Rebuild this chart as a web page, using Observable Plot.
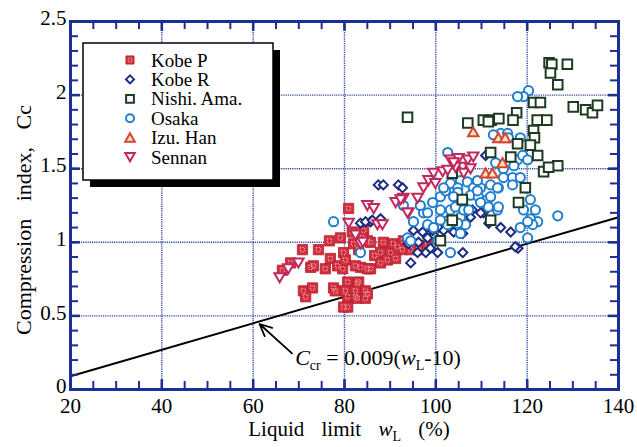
<!DOCTYPE html>
<html><head><meta charset="utf-8">
<script src="https://cdn.jsdelivr.net/npm/d3@7"></script>
<script src="https://cdn.jsdelivr.net/npm/@observablehq/plot@0.6"></script>
<style>
body{margin:0;background:#fff;}
#wrap{width:637px;height:447px;}
</style></head><body><div id="wrap"></div>
<script>
// ---- data (liquid limit wL %, compression index Cc) ----
const kobeP_x = [80.9,76.7,70.8,74.3,76.9,72.6,75.8,79.6,66.4,68.2,71.0,73.0,77.6,80.7,80.7,82.4,80.7,82.8,79.8,82.0,85.7,88.5,87.9,90.1,90.7,78.5,83.5,85.7,87.9,89.4,83.1,78.0,80.2,82.4,84.6,71.5,82.8,84.6,79.8,85.0,92.9,96.2,84.2,98.2,83.9,83.1,91.6,92.7,94.5,80.2,82.4,85.0,73.2,85.0,79.1,81.7,86.6,91.2];
const kobeP_y = [1.23,1.01,0.95,0.95,0.89,0.83,0.82,0.82,0.81,0.86,0.67,0.69,0.69,0.73,0.63,0.63,0.56,0.72,0.93,0.99,1.00,1.00,0.93,0.93,0.99,0.84,0.83,0.82,0.86,0.88,0.73,0.67,0.67,0.67,0.67,0.63,0.62,0.62,0.56,1.01,1.01,0.95,1.08,0.98,1.03,0.95,0.97,0.95,0.95,0.88,0.84,0.82,0.84,0.65,1.03,1.07,0.91,0.89];

const kobeR_x = [87.4,88.5,91.8,92.7,85.7,87.9,83.5,84.6,86.1,94.5,97.8,96.2,99.5,100.6,103.9,105.4,107.6,110.4,114.2,116.4,118.0,108.0,109.8,111.6,117.4,110.9,95.1,97.1,98.2,99.3,101.7,105.9,94.0,98.8,100.4,105.9,96.0];
const kobeR_y = [1.39,1.39,1.39,1.37,1.14,1.16,1.13,1.14,1.15,0.86,0.93,1.00,1.05,1.10,1.07,1.12,1.17,1.20,1.10,1.07,0.96,1.22,1.20,1.13,0.97,1.59,1.08,1.07,1.03,1.08,1.08,1.06,0.99,0.96,0.93,0.93,0.93];

const nishi_x = [93.8,124.8,125.4,128.8,125.1,126.7,121.4,122.9,130.1,132.8,134.3,135.4,110.4,112.1,113.8,117.7,116.9,122.2,124.3,121.4,107.0,121.6,120.7,112.0,116.4,122.3,123.6,126.7,119.6,118.1,103.6,101.0,103.6,112.0,105.8,124.7,111.5,117.9];
const nishi_y = [1.85,2.22,2.21,2.21,2.15,2.07,1.95,1.95,1.92,1.90,1.88,1.93,1.83,1.83,1.84,1.88,1.83,1.83,1.83,1.76,1.81,1.71,1.66,1.61,1.58,1.59,1.48,1.52,1.37,1.27,1.47,1.01,1.15,1.15,1.29,1.51,1.82,1.67];

const osaka_x = [77.6,83.5,103.2,120.1,126.7,122.3,120.7,93.8,95.1,97.3,99.3,101.7,103.2,102.6,113.5,111.3,120.3,119.2,117.9,102.6,114.2,115.7,118.5,117.9,119.0,120.1,112.6,113.1,114.8,105.4,106.9,108.2,109.8,112.0,113.7,114.8,116.8,116.8,107.6,109.3,111.3,111.5,119.2,121.2,92.9,101.0,102.1,103.2,104.8,104.3,105.4,106.5,101.0,98.2,99.5,94.5,101.7,101.0,98.2,104.8,106.1,105.4,115.9,117.1,118.5,109.1,113.5,104.8,109.1,105.4,109.8,113.7,112.0,118.5,120.1,100.4,96.6,103.9,107.2,120.7,121.8];
const osaka_y = [1.14,0.93,0.93,1.03,1.18,1.14,1.16,1.03,1.14,1.20,1.27,1.20,1.22,1.12,1.22,1.25,2.03,1.99,1.99,1.61,1.74,1.74,1.71,1.56,1.59,1.56,1.73,1.54,1.50,1.42,1.41,1.37,1.37,1.39,1.37,1.44,1.44,1.39,1.32,1.31,1.29,1.24,1.22,1.12,1.25,1.31,1.35,1.40,1.37,1.24,1.17,1.12,1.15,1.12,1.10,1.01,1.37,1.22,1.20,1.13,1.22,1.06,1.71,1.52,1.44,1.42,1.37,1.34,1.35,1.29,1.27,1.24,1.31,1.10,1.14,1.01,1.25,1.31,1.22,1.29,1.22];

const izu_x = [108.2,113.7,115.2,114.6,110.9,112.4];
const izu_y = [1.75,1.71,1.71,1.54,1.47,1.47];

const sennan_x = [65.8,67.7,69.9,80.9,82.4,83.5,87.2,85.0,86.4,88.3,91.2,92.9,94.0,96.0,97.3,98.4,99.5,99.9,101.5,103.2,105.0,105.9,104.3,107.0,108.2,103.9,102.6,106.1,92.3,93.8,107.6,84.0];
const sennan_y = [0.76,0.82,0.86,1.13,1.05,0.99,1.12,1.25,1.23,1.12,1.27,1.30,1.20,1.30,1.37,1.42,1.47,1.40,1.48,1.56,1.57,1.51,1.51,1.56,1.58,1.54,1.49,1.47,1.29,1.20,1.50,1.00];

const seriesNames = ["Kobe P","Kobe R","Nishi. Ama.","Osaka","Izu. Han","Sennan"];

// critical line Ccr = 0.009(wL - 10)
const lineX = [20, 140];
const lineY = [0.09, 1.17];

// annotation arrow (tail -> head) and label anchor
const arrowFrom = [68.5, 0.245];
const arrowTo = [61.4, 0.445];
const labelAt = [69.3, 0.163];

// ticks
const xMajor = [20,40,60,80,100,120,140];
const xMinor = d3.range(20,141,5);
const yMajor = [0,0.5,1,1.5,2,2.5];
const yMajorLabels = ["0","0.5","1","1.5","2","2.5"];
const yMinor = d3.range(0,26).map(i=>i/10);

const zip = (xs,ys)=>xs.map((x,i)=>({x, y: ys[i]}));
const kobeP = zip(kobeP_x,kobeP_y), kobeR = zip(kobeR_x,kobeR_y), nishi = zip(nishi_x,nishi_y),
      osaka = zip(osaka_x,osaka_y), izu = zip(izu_x,izu_y), sennan = zip(sennan_x,sennan_y);
const critLine = zip(lineX,lineY);

// custom triangles
const triDown = {draw(ctx,size){const r=Math.sqrt(size/Math.PI);const w=r*1.12,h=r*0.95;ctx.moveTo(-w,-h);ctx.lineTo(w,-h);ctx.lineTo(0,h*1.05);ctx.closePath();}};
const triUp = {draw(ctx,size){const r=Math.sqrt(size/Math.PI);const w=r*1.12,h=r*0.95;ctx.moveTo(-w,h);ctx.lineTo(w,h);ctx.lineTo(0,-h*1.05);ctx.closePath();}};

const W=637,H=447,mL=70,mR=19,mT=21,mB=58;
const pw=W-mL-mR, ph=H-mT-mB;
const axisBlue="#1b2f95", gridBlue="#3346a6";
const cKobeP="#d22f3e", cKobeR="#1d2a82", cNishi="#1c3b21", cOsaka="#1f7fcf", cIzu="#d5452a", cSennan="#c3285c";

const plot = Plot.plot({
  width:W, height:H, marginLeft:mL, marginRight:mR, marginTop:mT, marginBottom:mB,
  x:{domain:[20,140]}, y:{domain:[0,2.5]},
  style:{fontFamily:"Liberation Serif", fontSize:"21px", color:"black", background:"white", overflow:"visible"},
  marks:[
    Plot.gridX(xMajor.slice(1,-1),{stroke:gridBlue, strokeOpacity:1, strokeWidth:1.4, strokeDasharray:"1.2,1"}),
    Plot.gridY(yMajor.slice(1,-1),{stroke:gridBlue, strokeOpacity:1, strokeWidth:1.4, strokeDasharray:"1.2,1"}),
    Plot.line(critLine,{x:"x",y:"y",stroke:"black",strokeWidth:2}),
    Plot.arrow([{x1:arrowFrom[0],y1:arrowFrom[1],x2:arrowTo[0],y2:arrowTo[1]}],{x1:"x1",y1:"y1",x2:"x2",y2:"y2",stroke:"black",strokeWidth:1.8,headLength:11,headAngle:50}),
    Plot.dot(kobeP,{x:"x",y:"y",symbol:"square",r:5.8,fill:cKobeP,stroke:"#b51f2d",strokeWidth:0.8}),
    Plot.dot(kobeP,{x:"x",y:"y",symbol:"square",r:2.4,fill:"none",stroke:"#f6c2c6",strokeWidth:1,strokeDasharray:"1,1.3"}),
    Plot.dot(kobeR,{x:"x",y:"y",symbol:"diamond2",r:4.1,fill:"white",stroke:cKobeR,strokeWidth:2}),
    Plot.dot(osaka,{x:"x",y:"y",symbol:"circle",r:4.6,fill:"white",stroke:cOsaka,strokeWidth:2}),
    Plot.dot(nishi,{x:"x",y:"y",symbol:"square",r:5.4,fill:"white",stroke:cNishi,strokeWidth:2}),
    Plot.dot(sennan,{x:"x",y:"y",symbol:triDown,r:4.7,fill:"white",stroke:cSennan,strokeWidth:2}),
    Plot.dot(izu,{x:"x",y:"y",symbol:triUp,r:4.7,fill:"#fbe0c6",stroke:cIzu,strokeWidth:2}),
    // inward ticks on all four sides
    Plot.tickX(xMinor,{x:d=>d,stroke:axisBlue,strokeWidth:2,insetTop:ph-8}),
    Plot.tickX(xMinor,{x:d=>d,stroke:axisBlue,strokeWidth:2,insetBottom:ph-8}),
    Plot.tickY(yMinor,{y:d=>d,stroke:axisBlue,strokeWidth:2,insetRight:pw-8}),
    Plot.tickY(yMinor,{y:d=>d,stroke:axisBlue,strokeWidth:2,insetLeft:pw-8}),
    Plot.tickX(xMajor,{x:d=>d,stroke:axisBlue,strokeWidth:2.5,insetTop:ph-10}),
    Plot.tickX(xMajor,{x:d=>d,stroke:axisBlue,strokeWidth:2.5,insetBottom:ph-10}),
    Plot.tickY(yMajor,{y:d=>d,stroke:axisBlue,strokeWidth:2.5,insetRight:pw-10}),
    Plot.tickY(yMajor,{y:d=>d,stroke:axisBlue,strokeWidth:2.5,insetLeft:pw-10}),
    Plot.frame({stroke:axisBlue,strokeWidth:3}),
    Plot.axisX(xMajor,{tickSize:0,tickPadding:9,label:null,fill:"black"}),
    Plot.axisY(yMajor,{tickSize:0,tickPadding:4,label:null,fill:"black",dy:-3,tickFormat:(d)=>yMajorLabels[yMajor.indexOf(d)]})
  ]
});
document.getElementById("wrap").appendChild(plot);

const svg = d3.select(plot);
const sx = plot.scale("x"), sy = plot.scale("y");
const serif = "Liberation Serif";

// annotation label
const lab = svg.append("text").attr("x", sx.apply(labelAt[0])).attr("y", sy.apply(labelAt[1]))
  .attr("text-anchor","start").attr("font-family",serif).attr("font-size",22).attr("fill","black");
lab.append("tspan").attr("font-style","italic").text("C");
lab.append("tspan").attr("font-size",14).attr("dy",5).text("cr");
lab.append("tspan").attr("dy",-5).text(" = 0.009(");
lab.append("tspan").attr("font-style","italic").text("w");
lab.append("tspan").attr("font-size",14).attr("dy",5).text("L");
lab.append("tspan").attr("dy",-5).text("-10)");

// x title
const xt = svg.append("text").attr("x",349).attr("y",436).attr("text-anchor","middle")
  .attr("font-family",serif).attr("font-size",21).attr("fill","black").style("word-spacing","12px");
xt.append("tspan").text("Liquid limit ");
xt.append("tspan").attr("font-style","italic").text("w");
xt.append("tspan").attr("font-size",14).attr("dy",5).text("L");
xt.append("tspan").attr("dy",-5).text(" (%)");

// y title
svg.append("text").attr("transform","translate(31,220) rotate(-90)").attr("text-anchor","middle")
  .attr("font-family",serif).attr("font-size",22).attr("fill","black").style("word-spacing","12px")
  .text("Compression index, Cc");

// legend
const lg = svg.append("g").attr("text-anchor","start");
lg.append("rect").attr("x",90).attr("y",50).attr("width",190).attr("height",137).attr("fill","black");
lg.append("rect").attr("x",83).attr("y",43).attr("width",190).attr("height",137).attr("fill","white").attr("stroke","black").attr("stroke-width",1.5);
const rows = [
  {sym:d3.symbolSquare, r:4.6, fill:cKobeP, stroke:"#b51f2d", sw:0.8, inner:true},
  {sym:d3.symbolDiamond2, r:3.6, fill:"white", stroke:cKobeR, sw:2},
  {sym:d3.symbolSquare, r:4.4, fill:"white", stroke:cNishi, sw:2},
  {sym:d3.symbolCircle, r:4.0, fill:"white", stroke:cOsaka, sw:2},
  {sym:triUp, r:4.3, fill:"#fbe0c6", stroke:cIzu, sw:2},
  {sym:triDown, r:4.3, fill:"white", stroke:cSennan, sw:2}
];
rows.forEach((row,i)=>{
  const cy = 60 + i*19.4;
  lg.append("path").attr("transform",`translate(130,${cy})`).attr("d",d3.symbol(row.sym, Math.PI*row.r*row.r)())
    .attr("fill",row.fill).attr("stroke",row.stroke).attr("stroke-width",row.sw);
  if(row.inner) lg.append("path").attr("transform",`translate(130,${cy})`).attr("d",d3.symbol(d3.symbolSquare, Math.PI*2*2)())
    .attr("fill","none").attr("stroke","#f6c2c6").attr("stroke-dasharray","1,1.3");
  lg.append("text").attr("x",151).attr("y",cy).attr("dy","0.35em").attr("text-anchor","start").attr("font-family",serif).attr("font-size",19).attr("fill","black").text(seriesNames[i]);
});
</script></body></html>
